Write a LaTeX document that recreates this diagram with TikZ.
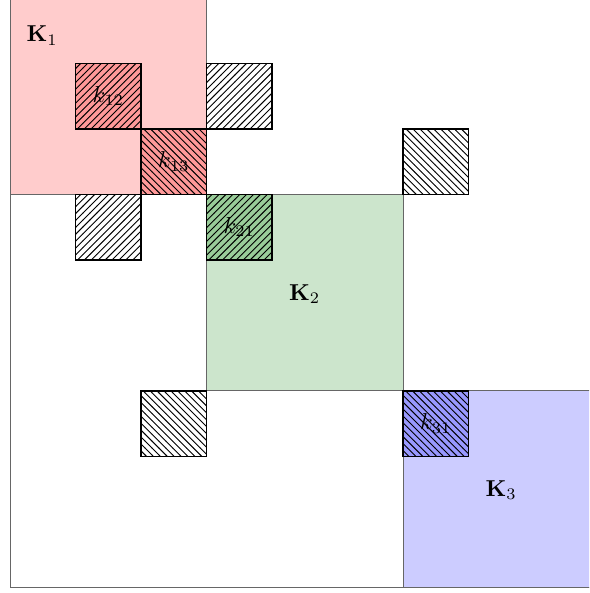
\documentclass[tikz,border=0pt]{standalone}
\usetikzlibrary{patterns}
\definecolor{hgreen}{RGB}{0,128,0}
\begin{document}
\begin{tikzpicture}[x=1cm,y=1cm,
  bigblock/.style={draw=black!60,line width=0.4pt},
  smallblock/.style={draw=black,line width=0.7pt},
  lbl/.style={inner sep=0pt}]
\useasboundingbox (-0.153,-0.087) rectangle (8.840,8.967);
\begin{scope}
\clip (-0.153,-0.087) rectangle (8.840,8.967);
% big blocks
\fill[red!20] (0,6) rectangle (3,9);
\fill[hgreen!20] (3,3) rectangle (6,6);
\fill[blue!20] (6,0) rectangle (9,3);
\draw[bigblock] (0,0) rectangle (9,9);
\draw[bigblock] (0,6) rectangle (3,9);
\draw[bigblock] (3,3) rectangle (6,6);
\draw[bigblock] (6,0) rectangle (9,3);
\node[lbl] (K1) at (0.49,8.42) {$\mathbf{K}_1$};
\node[lbl] (K2) at (4.5,4.48) {$\mathbf{K}_2$};
\node[lbl] (K3) at (7.5,1.48) {$\mathbf{K}_3$};
% coloured coupling blocks
\fill[red!40] (1,7) rectangle (2,8);
\fill[red!40] (2,6) rectangle (3,7);
\fill[hgreen!40] (3,5) rectangle (4,6);
\fill[blue!40] (6,2) rectangle (7,3);
\node[lbl] (k12) at (1.5,7.5) {$k_{12}$};
\node[lbl] (k13) at (2.5,6.5) {$k_{13}$};
\node[lbl] (k21) at (3.5,5.5) {$k_{21}$};
\node[lbl] (k31) at (6.5,2.5) {$k_{31}$};
% hatched blocks
\draw[smallblock,pattern=north east lines] (1,7) rectangle (2,8);
\draw[smallblock,pattern=north west lines] (2,6) rectangle (3,7);
\draw[smallblock,pattern=north east lines] (3,5) rectangle (4,6);
\draw[smallblock,pattern=north west lines] (6,2) rectangle (7,3);
\draw[smallblock,pattern=north east lines] (3,7) rectangle (4,8);
\draw[smallblock,pattern=north west lines] (6,6) rectangle (7,7);
\draw[smallblock,pattern=north east lines] (1,5) rectangle (2,6);
\draw[smallblock,pattern=north west lines] (2,2) rectangle (3,3);
\end{scope}
\end{tikzpicture}
\end{document}
